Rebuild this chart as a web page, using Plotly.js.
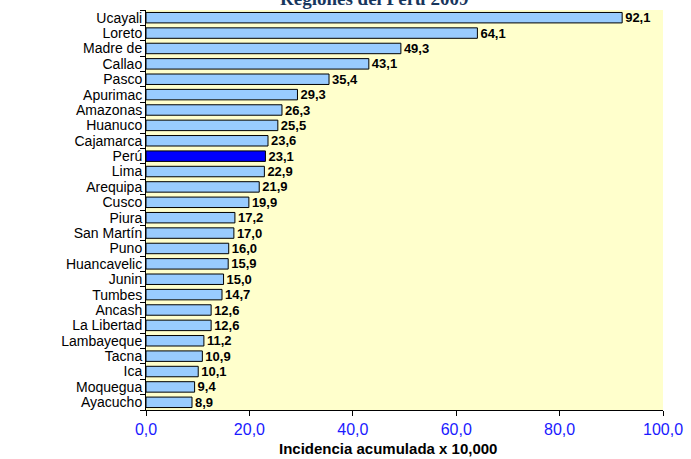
<!DOCTYPE html>
<html>
<head>
<meta charset="utf-8">
<script src="https://cdn.plot.ly/plotly-3.0.1.min.js"></script>
<style>html,body{margin:0;padding:0;background:#fff;}#chart{width:691px;height:459px;}</style>
</head>
<body>
<div id="chart"></div>
<script>
const regions = ["Ucayali","Loreto","Madre de","Callao","Pasco","Apurimac","Amazonas","Huanuco","Cajamarca","Perú","Lima","Arequipa","Cusco","Piura","San Martín","Puno","Huancavelic","Junin","Tumbes","Ancash","La Libertad","Lambayeque","Tacna","Ica","Moquegua","Ayacucho"];
const incidence = [92.1,64.1,49.3,43.1,35.4,29.3,26.3,25.5,23.6,23.1,22.9,21.9,19.9,17.2,17.0,16.0,15.9,15.0,14.7,12.6,12.6,11.2,10.9,10.1,9.4,8.9];
const xTicks = [0,20,40,60,80,100];
const highlight = "Perú";

const colors = regions.map(r => r === highlight ? "#0000FF" : "#99CCFF");

const trace = {
  type: "bar",
  orientation: "h",
  x: incidence,
  y: regions,
  marker: {color: colors, line: {color: "#000000", width: 1}},
  texttemplate: "%{x:.1f}",
  textposition: "outside",
  constraintext: "none",
  cliponaxis: false,
  textfont: {family: "Liberation Sans, Arial, sans-serif", size: 13, color: "#000000", weight: "bold"},
  hoverinfo: "none"
};

const layout = {
  width: 691,
  height: 459,
  margin: {l: 146, r: 28, t: 10, b: 49},
  paper_bgcolor: "#FFFFFF",
  plot_bgcolor: "#FFFFCC",
  separators: ",.",
  bargap: 0.32,
  showlegend: false,
  xaxis: {
    range: [0, 100],
    tickvals: xTicks,
    tickformat: ".1f",
    showgrid: false,
    zeroline: false,
    showline: true,
    linecolor: "#000000",
    linewidth: 1,
    ticks: "outside",
    ticklen: 5,
    tickcolor: "#000000",
    tickfont: {family: "Liberation Sans, Arial, sans-serif", size: 16, color: "#1A1AFF"}
  },
  yaxis: {
    type: "category",
    autorange: "reversed",
    tickmode: "array",
    tickvals: regions,
    ticktext: regions,
    showgrid: false,
    zeroline: false,
    showline: true,
    linecolor: "#000000",
    linewidth: 1,
    ticks: "outside",
    tickson: "boundaries",
    ticklen: 5,
    tickcolor: "#000000",
    tickfont: {family: "Liberation Sans, Arial, sans-serif", size: 14, color: "#000000"}
  },
  annotations: [
    {
      text: "<b>Regiones del Perú 2009*</b>",
      xref: "paper", yref: "paper", x: 0.45, y: 1, yshift: -1, xanchor: "center", yanchor: "bottom",
      showarrow: false,
      font: {family: "Liberation Serif, Times New Roman, serif", size: 19, color: "#17365D"}
    },
    {
      text: "<b>Incidencia acumulada x 10,000</b>",
      xref: "paper", yref: "paper", x: 0.468, y: 0, yshift: -38, xanchor: "center", yanchor: "middle",
      showarrow: false,
      font: {family: "Liberation Sans, Arial, sans-serif", size: 15, color: "#000000"}
    }
  ]
};

Plotly.newPlot("chart", [trace], layout, {displayModeBar: false, staticPlot: true});
</script>
</body>
</html>
